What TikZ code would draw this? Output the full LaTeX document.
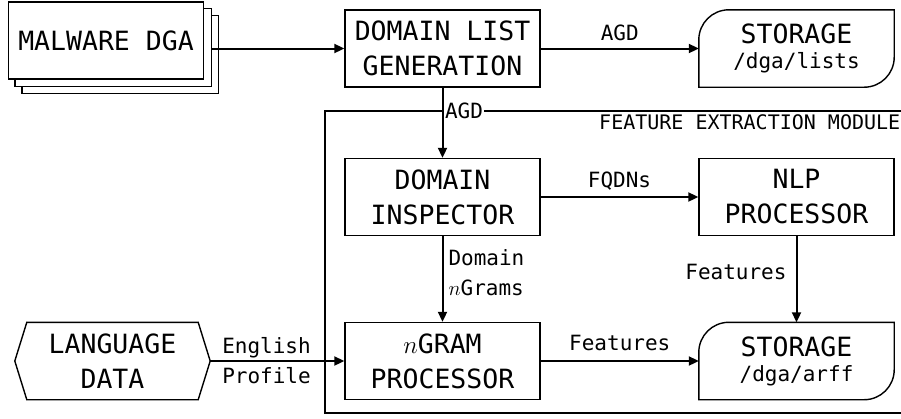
\documentclass[tikz,border=0pt]{standalone}
\usepackage{fontspec}
\setmonofont{DejaVu Sans Mono}
\usetikzlibrary{arrows.meta, positioning, backgrounds, calc}

\begin{document}
\begin{tikzpicture}[x=1pt, y=-1pt,
    block/.style={rectangle, draw, line width=1.4pt, minimum width=195pt,
                  minimum height=77pt, align=center, inner sep=0pt,
                  font=\ttfamily\fontsize{26.5}{35}\selectfont},
    store/.style={rectangle, minimum width=195pt, minimum height=77pt,
                  align=center, inner sep=0pt,
                  font=\ttfamily\fontsize{26.5}{35}\selectfont},
    lbl/.style={font=\ttfamily\fontsize{21}{30}\selectfont, inner sep=2pt},
    arr/.style={-{Triangle[length=10pt, width=9pt]}, line width=2pt},
    outline/.style={line width=1.4pt}]

    \useasboundingbox (0,0) rectangle (901,418);

    % Module frame
    \draw[line width=2pt] (910,110.7) -- (325,110.7) -- (325,412.7) -- (910,412.7);
    \node[lbl, anchor=base west, font=\ttfamily\fontsize{20}{24}\selectfont] (femod) at (597,129) {FEATURE EXTRACTION MODULE};

    % Blocks
    \node[block, fill=white] (mw) at (106,40.5) {MALWARE DGA};
    \node[block] (dl) at (442.5,48.5) {DOMAIN LIST\\GENERATION};
    \node[store] (st1) at (796.5,48.5) {STORAGE\\[-10pt]{\fontsize{21}{25}\selectfont /dga/lists}};
    \node[block] (insp) at (442.5,197) {DOMAIN\\INSPECTOR};
    \node[block] (nlp) at (796.5,197) {NLP\\PROCESSOR};
    \node[block] (ngram) at (442.5,361) {$n$GRAM\\PROCESSOR};
    \node[store] (st2) at (796.5,361) {STORAGE\\[-10pt]{\fontsize{21}{25}\selectfont /dga/arff}};
    \node[store] (ld) at (112.5,361) {LANGUAGE\\DATA};

    % Stacked copies behind the malware block
    \begin{scope}[on background layer]
        \draw[outline, fill=white] ([xshift=14pt, yshift=-14pt]mw.south west) rectangle ([xshift=14pt, yshift=-14pt]mw.north east);
        \draw[outline, fill=white] ([xshift=7pt, yshift=-7pt]mw.south west) rectangle ([xshift=7pt, yshift=-7pt]mw.north east);
    \end{scope}

    % Storage outlines
    \foreach \s in {st1, st2}
        \draw[outline] (\s.west) [rounded corners=30pt] -- (\s.north west) [sharp corners] -- (\s.north east)
            [rounded corners=30pt] -- (\s.south east) [sharp corners] -- (\s.south west) -- cycle;

    % Language data outline
    \draw[outline] (ld.west) -- ([xshift=12pt]ld.north west) -- ([xshift=-12pt]ld.north east) -- (ld.east)
        -- ([xshift=-12pt]ld.south east) -- ([xshift=12pt]ld.south west) -- cycle;

    % Arrows
    \draw[arr] ([xshift=7pt]mw.east |- dl.west) -- (dl.west);
    \draw[arr] (dl) -- node[lbl, above=4.5pt] {AGD} (st1);
    \draw[arr] (dl) -- node[lbl, pos=0.334, anchor=west, fill=white, inner sep=1.5pt] {AGD} (insp);
    \draw[arr] (insp) -- node[lbl, above=4pt] {FQDNs} (nlp);
    \draw[arr] (insp) -- node[lbl, pos=0.43, right=3pt, align=left] {Domain\\$n$Grams} (ngram);
    \draw[arr] (nlp) -- node[lbl, pos=0.42, left=7pt] {Features} (st2);
    \draw[arr] (ngram) -- node[lbl, above=7pt] {Features} (st2);
    \draw[arr] (ld) -- node[lbl, pos=0.42, align=center] {English\\Profile} (ngram);
\end{tikzpicture}
\end{document}
